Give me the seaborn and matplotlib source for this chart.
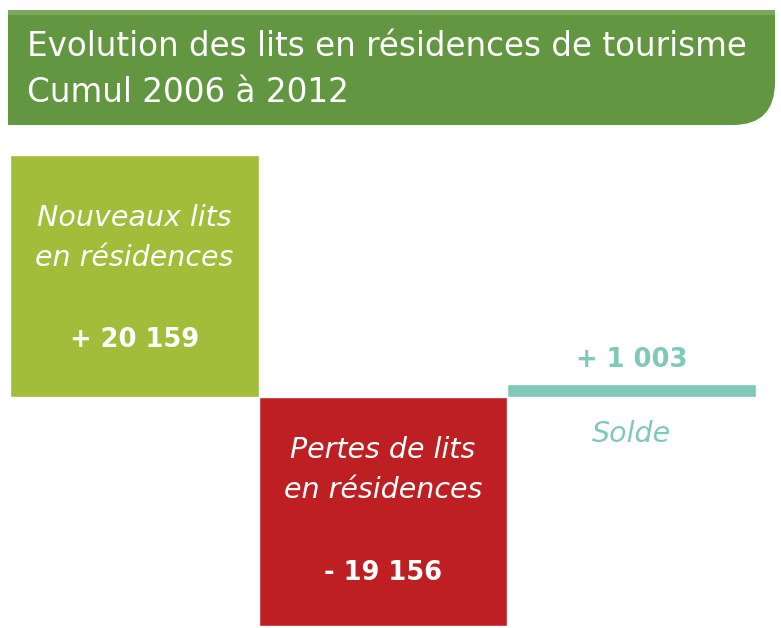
import matplotlib
matplotlib.use("Agg")
import matplotlib.pyplot as plt
import seaborn as sns
from matplotlib.path import Path
from matplotlib.patches import PathPatch, Rectangle

# Data
categories = ["Nouveaux lits", "Pertes de lits", "Solde"]
values = [20159, -19156, 1003]
value_labels = ["+ 20 159", "- 19 156", "+ 1 003"]
colors = ["#a1bd3a", "#be1f22", "#80c9b9"]
title_lines = ["Evolution des lits en résidences de tourisme", "Cumul 2006 à 2012"]

W, H = 781, 628
sns.set_theme(style="white")
plt.rcParams['font.family'] = ['DejaVu Sans']

fig = plt.figure(figsize=(W / 100, H / 100), dpi=100)
fig.patch.set_facecolor("white")


def fx(px):
    return px / W


def fy(py):
    return 1 - py / H


# title banner with rounded bottom-right corner
verts = [(fx(8), fy(10)), (fx(775), fy(10)), (fx(775), fy(82)),
         (fx(775), fy(125)), (fx(733), fy(125)), (fx(8), fy(125)), (fx(8), fy(10))]
codes = [Path.MOVETO, Path.LINETO, Path.LINETO, Path.CURVE3, Path.CURVE3,
         Path.LINETO, Path.CLOSEPOLY]
fig.patches.append(PathPatch(Path(verts, codes), transform=fig.transFigure,
                             facecolor="#629640", edgecolor="none"))
fig.patches.append(Rectangle((fx(8), fy(15)), fx(767), 5 / H, transform=fig.transFigure,
                             facecolor="#7da862", edgecolor="none"))
fig.text(fx(27), fy(47), title_lines[0], color="white", fontsize=23.5, va="center", ha="left")
fig.text(fx(27), fy(92), title_lines[1], color="white", fontsize=23.5, va="center", ha="left")

# bars
ax = fig.add_axes([fx(10), 1 - 626 / H, fx(746), 471 / H])
sns.barplot(x=categories, y=values, hue=categories, palette=colors, width=1.0,
            legend=False, ax=ax, saturation=1)
ax.set_xlim(-0.5, 2.5)
ax.set_ylim(values[1], values[0])
ax.axis("off")

tr = ax.get_xaxis_transform()
label_kw = dict(transform=tr, ha="center", va="center", fontsize=20.5, style="italic")
num_kw = dict(transform=tr, ha="center", va="center", fontsize=18.5, fontweight="bold")

ax.text(0, 0.866, "Nouveaux lits", color="white", **label_kw)
ax.text(0, 0.781, "en résidences", color="white", **label_kw)
ax.text(0, 0.607, value_labels[0], color="white", **num_kw)

ax.text(1, 0.374, "Pertes de lits", color="white", **label_kw)
ax.text(1, 0.289, "en résidences", color="white", **label_kw)
ax.text(1, 0.113, value_labels[1], color="white", **num_kw)

ax.text(2, 0.565, value_labels[2], color=colors[2], **num_kw)
ax.text(2, 0.408, "Solde", color=colors[2], **label_kw)

fig.savefig("out.png", dpi=100, facecolor="white")
